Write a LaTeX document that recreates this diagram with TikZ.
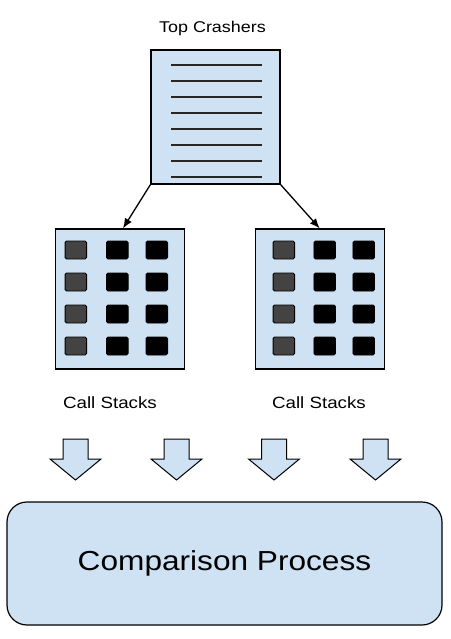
\documentclass[tikz,border=0pt]{standalone}
\usepackage{fontspec}
\setmainfont{Liberation Sans}[FakeStretch=1.15]
\usepackage{tikz}
\usetikzlibrary{arrows,arrows.meta,positioning}

\definecolor{paleblue}{HTML}{CFE2F3}
\definecolor{cellgrey}{HTML}{434343}

\tikzset{
	panel/.style={draw, line width=1.2pt, fill=paleblue, inner sep=0pt},
	greycell/.style={draw, line width=0.9pt, fill=cellgrey, rounded corners=1.5pt},
	blackcell/.style={draw, line width=0.9pt, fill=black, rounded corners=1.5pt},
	blockarrow/.style={draw, line width=1pt, fill=paleblue, line join=miter},
	caption/.style={font=\fontsize{15.6}{18}\selectfont}
}

\begin{document}
\begin{tikzpicture}[>={Latex[length=10pt,width=8pt]}, x=1pt, y=-1pt]
		\useasboundingbox (0,0) rectangle (450,639);
		
		% list of crashers
		\node[panel, minimum width=129pt, minimum height=134pt] (crash) at (215.5,117) {};
		\foreach \ly in {65,81,...,177} \draw[line width=1.5pt, black!85] (171,\ly) -- (262,\ly);
		\node[caption] (crashlabel) at (212.5,28) {Top Crashers};
		
		% the two call stacks
		\node[panel, minimum width=129pt, minimum height=140pt] (stackL) at (120.3,299) {};
		\node[panel, minimum width=129pt, minimum height=140pt] (stackR) at (319.7,299) {};
		\foreach \cy in {250,282,314,346} {
			\foreach \cx in {75.8,283.8}
				\draw[greycell] (\cx-10.75,\cy-9) rectangle (\cx+10.75,\cy+9);
			\foreach \cx in {117.3,156.8,324.7,363.7}
				\draw[blackcell] (\cx-10.75,\cy-9) rectangle (\cx+10.75,\cy+9);
		}
		\node[font=\fontsize{16.3}{19}\selectfont] (stackLlabel) at (110,403) {Call Stacks};
		\node[font=\fontsize{16.3}{19}\selectfont] (stackRlabel) at (319,403) {Call Stacks};
		
		\draw[->, line width=1.3pt] (crash.south west) -- ([xshift=2.7pt]stackL.north);
		\draw[->, line width=1.3pt] (crash.south east) -- (stackR.north);
		
		% block arrows down
		\foreach \ax in {75.5,176.5,274,375.5}
			\draw[blockarrow] (\ax-12.5,439) -- (\ax+12.5,439) -- (\ax+12.5,459) -- (\ax+25.5,459) --
				(\ax,480) -- (\ax-25.5,459) -- (\ax-12.5,459) -- cycle;
		
		\node[panel, rounded corners=20pt, minimum width=435pt, minimum height=123pt,
			font=\fontsize{27.5}{32}\selectfont] (compare) at (224.5,563.5) {Comparison Process};
	\end{tikzpicture}
\end{document}
